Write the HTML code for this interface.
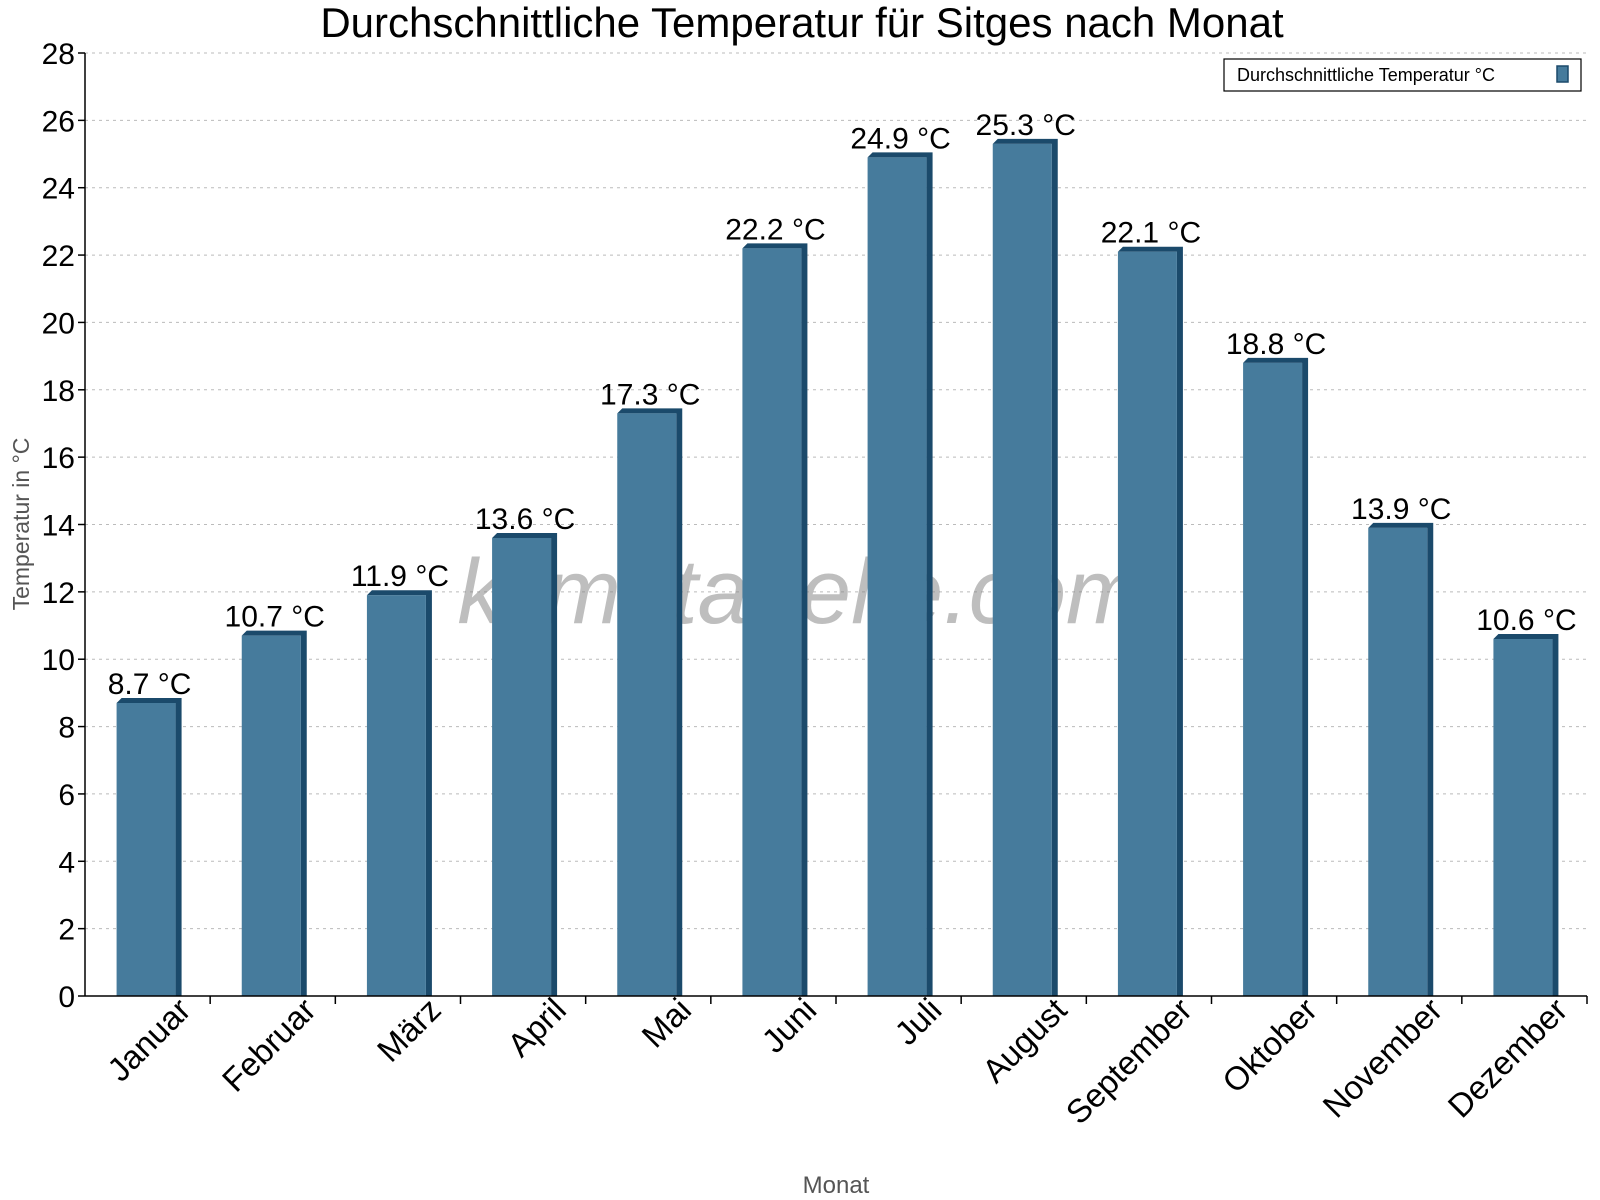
<!DOCTYPE html>
<html><head><meta charset="utf-8"><style>body{margin:0;background:#fff}svg{display:block;font-family:"Liberation Sans",sans-serif}</style></head>
<body>
<svg id="chart" width="1600" height="1200">
<text x="802" y="37" font-size="42" text-anchor="middle">Durchschnittliche Temperatur für Sitges nach Monat</text>
<g id="grid"></g>
<text x="800" y="623" font-size="92" font-style="italic" fill="#888" fill-opacity="0.55" text-anchor="middle">klimatabelle.com</text>
<g id="bars"></g><g id="axes"></g>
<text transform="translate(29,524) rotate(-90)" font-size="23" fill="#555" text-anchor="middle">Temperatur in °C</text>
<text x="836" y="1193" font-size="24" fill="#555" text-anchor="middle">Monat</text>
<g>
<rect x="1224" y="59" width="357" height="32" fill="#fff" stroke="#000" stroke-width="1.2"/>
<text x="1237" y="81" font-size="18">Durchschnittliche Temperatur °C</text>
<rect x="1557" y="66" width="11" height="16" fill="#467b9c" stroke="#1b4a6b" stroke-width="1.5"/>
</g>
</svg>
<script>
const months=["Januar","Februar","März","April","Mai","Juni","Juli","August","September","Oktober","November","Dezember"];
const temps=[8.7,10.7,11.9,13.6,17.3,22.2,24.9,25.3,22.1,18.8,13.9,10.6];
const yTicks=[0,2,4,6,8,10,12,14,16,18,20,22,24,26,28];
const NS="http://www.w3.org/2000/svg";
const L=85,R=1587,T=53,B=996,YMAX=28;
const y=v=>B-(B-T)*v/YMAX;
const cw=(R-L)/months.length;
const x=i=>L+cw*i;
function mk(tag,at,parent,txt){const e=document.createElementNS(NS,tag);for(const k in at)e.setAttribute(k,at[k]);if(txt!=null)e.textContent=txt;parent.appendChild(e);return e;}
const grid=document.getElementById('grid'),bars=document.getElementById('bars'),axes=document.getElementById('axes');
yTicks.forEach(t=>{
  if(t>0){const g=mk('line',{x1:L,x2:R,y1:y(t),y2:y(t),stroke:'#bbb','stroke-dasharray':'3,4','stroke-width':1},grid);
  
  }
  const tk=mk('line',{x1:L-7,x2:L,y1:y(t),y2:y(t),stroke:'#000','stroke-width':1.5},axes);
  
  
  const lb=mk('text',{x:L-10,y:y(t)+11,'font-size':30,'text-anchor':'end'},axes,t);
  
  
});
months.forEach((m,i)=>{
  const v=temps[i],c=x(i)+cw/2,bw=59,bl=c-31,top=y(v),d=6,h=5;
  const g=mk('g',{},bars);
  
  
  mk('polygon',{points:`${bl},${top} ${bl+h},${top-h} ${bl+bw+d},${top-h} ${bl+bw+d},${B} ${bl+bw},${B} ${bl+bw},${top}`,fill:'#1b4a6b'},g);
  mk('rect',{x:bl,y:top,width:bw,height:B-top,fill:'#467b9c'},g);
  const vl=mk('text',{x:c+2,y:top-9,'font-size':30,'text-anchor':'middle'},bars,v.toFixed(1)+' °C');
  
  
  const tk=mk('line',{x1:x(i+1),x2:x(i+1),y1:B,y2:B+8,stroke:'#000','stroke-width':1.5},axes);
  
  
  const ax=c+45,ay=1012;
  const xl=mk('text',{x:ax,y:ay,'font-size':33,'text-anchor':'end',transform:`rotate(-45 ${ax} ${ay})`},axes,m);
  
  
});
const xa=mk('line',{x1:L,x2:R,y1:B,y2:B,stroke:'#000','stroke-width':1.5},axes);


const ya=mk('line',{x1:L,x2:L,y1:T,y2:B,stroke:'#000','stroke-width':1.5},axes);


</script>
</body></html>
